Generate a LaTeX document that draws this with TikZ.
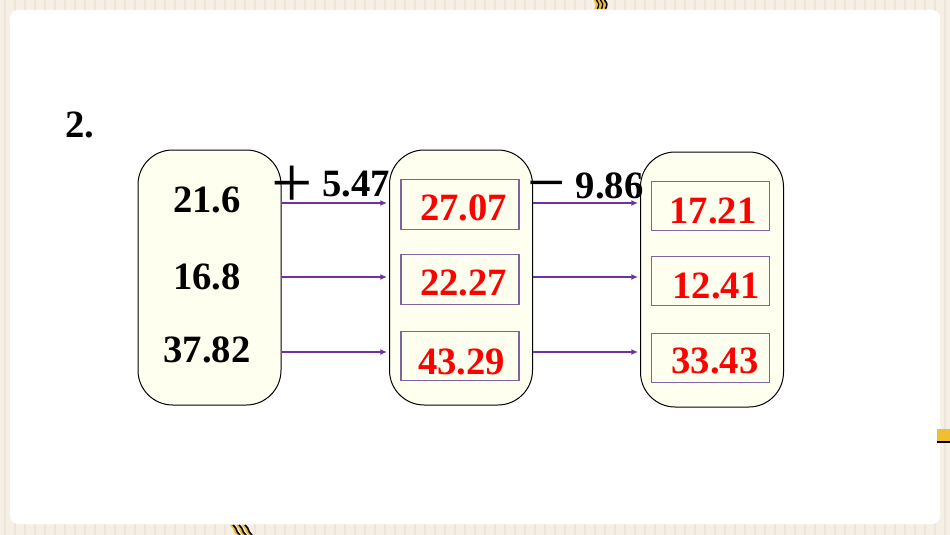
\documentclass[tikz,border=0pt]{standalone}
\usepackage{fontspec}
\setmainfont{Liberation Serif}
\usetikzlibrary{arrows.meta}
\definecolor{pagebg}{RGB}{246,239,229}
\definecolor{stripebg}{RGB}{238,229,216}
\definecolor{creamfill}{RGB}{255,255,240}
\definecolor{flowpurple}{RGB}{112,48,160}
\definecolor{ansborder}{RGB}{128,100,162}
\definecolor{decoyellow}{RGB}{240,190,50}
\tikzset{every picture/.style={line width=0.75pt}}
\tikzset{
	bigbox/.style={draw, fill=creamfill, rounded corners=26pt, minimum width=107.25pt, minimum height=191.25pt, inner sep=0pt},
	numtxt/.style={font=\fontsize{29}{30}\selectfont\bfseries},
	ansbox/.style={draw=ansborder, line width=0.8pt, minimum width=88.5pt, minimum height=37pt, inner sep=0pt},
	anstxt/.style={text=red, font=\fontsize{29}{30}\selectfont\bfseries},
	flowarr/.style={draw=flowpurple, line width=1.1pt, -{Latex[length=5pt,width=4.5pt]}, shorten >=1.5pt}}

\begin{document}
\begin{tikzpicture}[x=0.75pt,y=0.75pt,yscale=-1,xscale=1]
	\useasboundingbox (0,0) rectangle (950,535);

	% page background
	\fill[pagebg] (0,0) rectangle (950,535);
	\foreach \x in {5,15,...,945} {
		\draw[stripebg, line width=1pt] (\x,0) -- (\x,535);
	}
	\fill[white, rounded corners=6pt] (10,10) rectangle (940,524);

	% decorations
	\foreach \i in {0,1,2} {
		\draw[decoyellow, line width=1.6pt] (594.5+4*\i,0) .. controls (597.5+4*\i,4) .. (595.5+4*\i,9);
		\draw[black, line width=1.2pt] (596.5+4*\i,0) .. controls (599.5+4*\i,4) .. (597.5+4*\i,9);
		\draw[decoyellow, line width=1.6pt] (231+6*\i,525) .. controls (236+6*\i,529) and (233+6*\i,531) .. (238+6*\i,535);
		\draw[black, line width=1.2pt] (233+6*\i,525) .. controls (238+6*\i,529) and (235+6*\i,531) .. (240+6*\i,535);
	}
	\fill[decoyellow] (937,429) rectangle (950,441);
	\draw[black, line width=1.5pt] (937,442) -- (950,442);

	% title
	\node[numtxt] (qnum) at (80,125) {2.};

	% columns
	\node[bigbox] (boxA) at (209.5,277.5) {};
	\node[bigbox] (boxB) at (461,277.5) {};
	\node[bigbox] (boxC) at (712,279.5) {};

	% first column
	\node[numtxt] (a1) at (207,200) {21.6};
	\node[numtxt] (a2) at (207,277) {16.8};
	\node[numtxt] (a3) at (207,350) {37.82};

	% second column
	\node[ansbox] (b1) at (460,204.5) {};
	\node[ansbox] (b2) at (460,279.5) {};
	\node[ansbox] (b3) at (460,356) {};
	\node[anstxt] (b1t) at (463.5,207.5) {27.07};
	\node[anstxt] (b2t) at (463.5,282.5) {22.27};
	\node[anstxt] (b3t) at (461.5,362) {43.29};

	% third column
	\node[ansbox] (c1) at (710.5,206) {};
	\node[ansbox] (c2) at (710.5,281) {};
	\node[ansbox] (c3) at (710.5,358) {};
	\node[anstxt] (c1t) at (713,211) {17.21};
	\node[anstxt] (c2t) at (716,286) {12.41};
	\node[anstxt] (c3t) at (715,361) {33.43};

	% operations
	\node[anchor=base, font=\fontsize{55}{56}\selectfont] (addsign) at (292,207) {+};
	\node[numtxt] (addval) at (356,184.5) {5.47};
	\node[anchor=base, font=\fontsize{51}{52}\selectfont] (subsign) at (546.5,205.5) {−};
	\node[numtxt] (subval) at (609.5,186) {9.86};

	% arrows
	\coordinate (r1) at (0,203);
	\coordinate (r2) at (0,277);
	\coordinate (r3) at (0,352);
	\foreach \r in {r1,r2,r3} {
		\draw[flowarr] (boxA.east |- \r) -- (boxB.west |- \r);
		\draw[flowarr] (boxB.east |- \r) -- (boxC.west |- \r);
	}
\end{tikzpicture}
\end{document}
